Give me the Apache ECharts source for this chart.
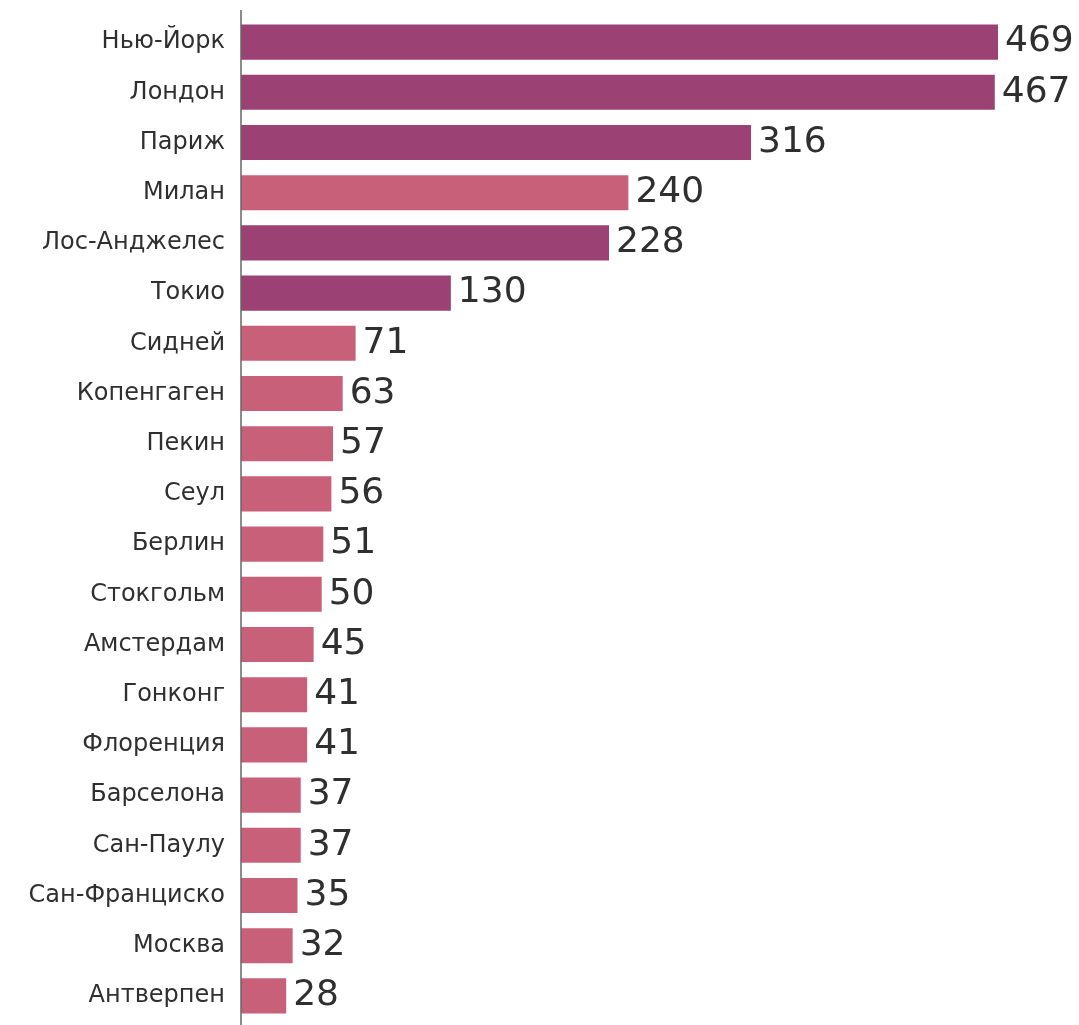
<!DOCTYPE html>
<html>
<head>
<meta charset="utf-8">
<script src="https://cdn.jsdelivr.net/npm/echarts@6/dist/echarts.min.js"></script>
<style>
  html, body { margin: 0; padding: 0; background: #fff; }
  #chart { width: 1079px; height: 1025px; }
</style>
</head>
<body>
<div id="chart"></div>
<script>
// Cities, top to bottom
const cities = [
  'Нью-Йорк', 'Лондон', 'Париж', 'Милан', 'Лос-Анджелес', 'Токио',
  'Сидней', 'Копенгаген', 'Пекин', 'Сеул', 'Берлин', 'Стокгольм',
  'Амстердам', 'Гонконг', 'Флоренция', 'Барселона', 'Сан-Паулу',
  'Сан-Франциско', 'Москва', 'Антверпен'
];
const values = [469, 467, 316, 240, 228, 130, 71, 63, 57, 56, 51, 50, 45, 41, 41, 37, 37, 35, 32, 28];
// Cities drawn in the darker shade
const highlighted = ['Нью-Йорк', 'Лондон', 'Париж', 'Лос-Анджелес', 'Токио'];

const DARK = '#9B4173';
const LIGHT = '#C8607A';
const FONT = '"DejaVu Sans", sans-serif';

const chart = echarts.init(document.getElementById('chart'));

const GRID_LEFT = 241;

chart.setOption({
  animation: false,
  grid: { left: GRID_LEFT, top: 17, bottom: 4, width: 757, containLabel: false },
  xAxis: {
    type: 'value', min: 0, max: 469,
    show: false
  },
  yAxis: {
    type: 'category',
    data: cities,
    inverse: true,
    axisLine: { show: false },
    axisTick: { show: false },
    axisLabel: { color: '#2f2f2f', fontFamily: FONT, fontSize: 24, margin: 16 }
  },
  series: [{
    type: 'bar',
    barCategoryGap: '30%',
    data: values.map((v, i) => ({
      value: v,
      itemStyle: { color: highlighted.includes(cities[i]) ? DARK : LIGHT }
    })),
    label: {
      show: true, position: 'right', distance: 7,
      color: '#2f2f2f', fontFamily: FONT, fontSize: 36
    }
  }],
  graphic: [{
    type: 'line',
    shape: { x1: GRID_LEFT, y1: 10, x2: GRID_LEFT, y2: 1025 },
    style: { stroke: '#666', lineWidth: 1.5 },
    z: 10
  }]
});
</script>
</body>
</html>
